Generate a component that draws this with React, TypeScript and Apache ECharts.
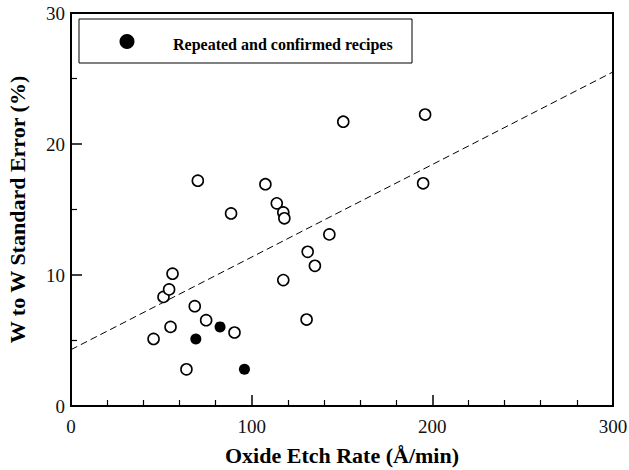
import React, { useEffect, useRef } from "react";
import * as echarts from "echarts";

// Oxide etch rate (Å/min) vs. wafer-to-wafer standard error (%)
const openRate = [45.7, 51.2, 54.3, 56.2, 55.1, 63.9, 68.5, 70.2, 74.8, 88.6, 90.5, 107.6, 113.9, 117.5, 118.1, 117.5, 130.4, 131.0, 135.0, 143.0, 150.7, 196.0, 194.9];
const openError = [5.12, 8.33, 8.9, 10.1, 6.04, 2.8, 7.62, 17.2, 6.55, 14.7, 5.61, 16.93, 15.47, 14.78, 14.33, 9.61, 6.6, 11.77, 10.7, 13.1, 21.7, 22.25, 17.0];

// Repeated and confirmed recipes
const confirmedRate = [69.1, 82.5, 96.0];
const confirmedError = [5.12, 6.04, 2.8];

// Linear fit endpoints
const fitRate = [0, 300];
const fitError = [4.3, 25.5];

const legendLabel = "Repeated and confirmed recipes";
const xTitle = "Oxide Etch Rate (Å/min)";
const yTitle = "W to W Standard Error (%)";

const SERIF = "Liberation Serif";

export default function App() {
  const ref = useRef<HTMLDivElement>(null);

  useEffect(() => {
    if (!ref.current) return;
    const chart = echarts.init(ref.current, null, { renderer: "svg" });

    const zip = (a: number[], b: number[]) => a.map((v, i) => [v, b[i]]);

    const axisCommon = {
      axisLine: { show: true, lineStyle: { color: "#000", width: 2 } },
      axisTick: { show: true, inside: true, length: 11, lineStyle: { color: "#000", width: 1.5 } },
      minorTick: { show: true, length: 6, lineStyle: { color: "#000", width: 1.2 } },
      splitLine: { show: false },
      axisLabel: { fontFamily: SERIF, fontSize: 19, color: "#111" },
      nameTextStyle: { fontFamily: SERIF, fontSize: 22, fontWeight: "bold" as const, color: "#000" },
      nameLocation: "middle" as const,
    };

    chart.setOption({
      animation: false,
      backgroundColor: "#fff",
      grid: {
        left: 71,
        right: 16,
        top: 13,
        bottom: 64,
        containLabel: false,
        outerBoundsMode: "none",
        show: true,
        borderColor: "#000",
        borderWidth: 2,
      },
      xAxis: {
        type: "value",
        min: 0,
        max: 300,
        interval: 100,
        name: xTitle,
        nameGap: 38,
        ...axisCommon,
        minorTick: { ...axisCommon.minorTick, splitNumber: 5 },
        axisLabel: { ...axisCommon.axisLabel, margin: 11 },
      },
      yAxis: {
        type: "value",
        min: 0,
        max: 30,
        interval: 10,
        name: yTitle,
        nameGap: 43,
        ...axisCommon,
        minorTick: { ...axisCommon.minorTick, splitNumber: 2 },
        axisLabel: { ...axisCommon.axisLabel, margin: 6 },
      },
      series: [
        {
          type: "line",
          data: zip(fitRate, fitError),
          showSymbol: false,
          symbol: "none",
          lineStyle: { color: "#000", width: 1, type: [7, 4] },
          silent: true,
          z: 1,
        },
        {
          type: "scatter",
          data: zip(openRate, openError),
          symbol: "circle",
          symbolSize: 11,
          itemStyle: { color: "#fff", borderColor: "#000", borderWidth: 1.6, opacity: 1 },
          z: 2,
        },
        {
          name: legendLabel,
          type: "scatter",
          data: zip(confirmedRate, confirmedError),
          symbol: "circle",
          symbolSize: 11,
          itemStyle: { color: "#000", opacity: 1 },
          z: 3,
        },
      ],
      graphic: [
        {
          type: "rect",
          shape: { x: 79, y: 19, width: 333, height: 44 },
          style: { fill: "#fff", stroke: "#000", lineWidth: 1 },
          z: 10,
        },
        {
          type: "circle",
          shape: { cx: 127, cy: 41.5, r: 7.5 },
          style: { fill: "#000" },
          z: 11,
        },
        {
          type: "text",
          x: 173,
          y: 44.5,
          style: {
            text: legendLabel,
            font: `bold 16px ${SERIF}`,
            fill: "#000",
            verticalAlign: "middle",
          },
          z: 11,
        },
      ],
    });

    return () => chart.dispose();
  }, []);

  return (
    <div
      ref={ref}
      style={{ position: "fixed", left: 0, top: 0, width: 629, height: 470 }}
    />
  );
}
